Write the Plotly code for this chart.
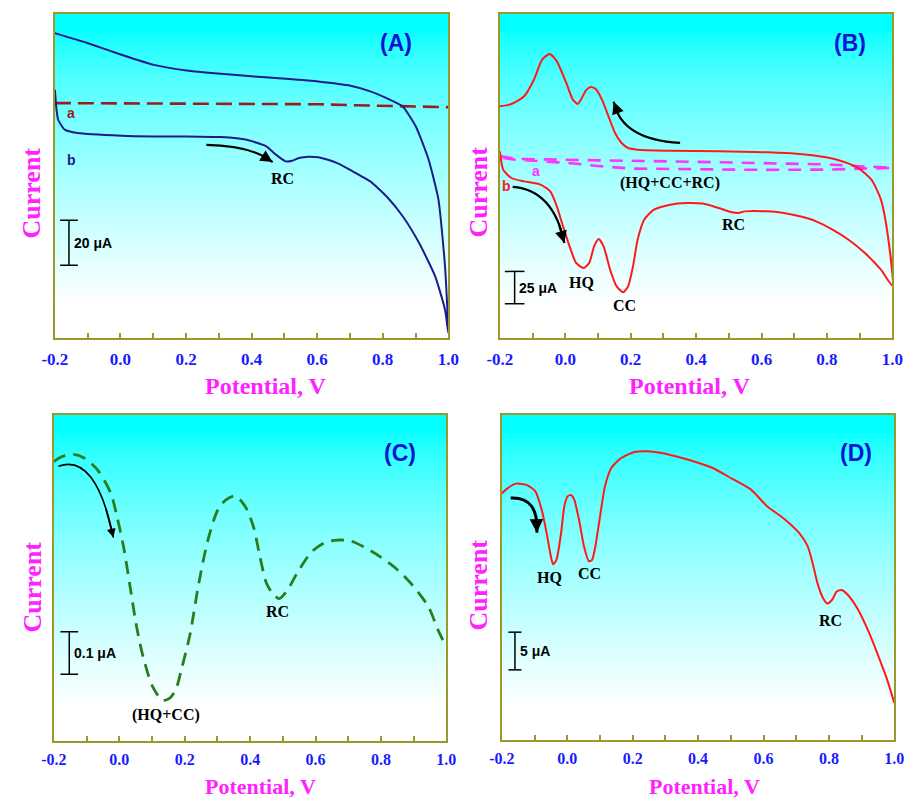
import plotly.graph_objects as go

# ---------------- DATA ----------------
# Panel A (CV, bare vs modified electrode)
A_a_V = [-0.2, 0.0, 0.2, 0.35, 0.5, 0.6, 0.7, 0.8, 0.9, 1.0]
A_a_I = [104.4, 104.3, 104.2, 104.0, 103.8, 103.9, 103.5, 103.2, 102.9, 102.6]

A_b_V = [-0.2, -0.195, -0.19, -0.17, -0.131, 0.003, 0.102, 0.202, 0.306, 0.385, 0.445, 0.474,
         0.504, 0.524, 0.544, 0.574, 0.603, 0.633, 0.663, 0.702, 0.762, 0.812, 0.861, 0.911, 0.96, 0.99, 1.0,
         0.99, 0.97, 0.94, 0.901, 0.861, 0.812, 0.762, 0.702, 0.603, 0.504, 0.4, 0.306, 0.202,
         0.102, 0.003, -0.101, -0.2]
A_b_I = [110.4, 101.5, 97.0, 92.6, 91.1, 89.9, 89.6, 89.6, 89.3, 88.1, 85.2, 81.5,
         78.5, 78.8, 80.0, 80.6, 80.3, 79.2, 77.6, 74.6, 69.6, 62.9, 54.1, 42.2, 27.4, 12.6, 2.2,
         31.8, 61.5, 79.2, 94.0, 102.9, 106.6, 109.6, 112.1, 114.0, 115.2, 116.3, 117.4, 118.9,
         121.4, 125.9, 131.1, 135.5]

# Panel B (CV of HQ+CC+RC mixture)
B_a_V = [-0.2, -0.15, 0.0, 0.2, 0.4, 0.6, 0.8, 1.0, 0.8, 0.6, 0.4, 0.2, 0.1, 0.0, -0.15, -0.2]
B_a_I = [140.5, 138.5, 137.8, 137.2, 136.2, 135.2, 134.2, 131.5, 130.2, 130.0, 130.4, 131.0, 133.0, 135.5, 137.8, 139.5]

B_b_V = [-0.2, -0.19, -0.165, -0.126, -0.076, -0.046, -0.026, -0.007, 0.013, 0.033, 0.056, 0.073,
         0.088, 0.102, 0.117, 0.137, 0.157, 0.177, 0.192, 0.207, 0.221, 0.241, 0.271, 0.321, 0.37,
         0.42, 0.469, 0.509, 0.529, 0.549, 0.618, 0.668, 0.717, 0.767, 0.817, 0.866, 0.916, 0.965, 1.0,
         0.985, 0.965, 0.936, 0.896, 0.846, 0.797, 0.717, 0.618, 0.469, 0.321, 0.221, 0.192, 0.172,
         0.152, 0.132, 0.112, 0.093, 0.078, 0.063, 0.048, 0.038, 0.023, 0.003, -0.026, -0.048,
         -0.071, -0.096, -0.126, -0.165, -0.2]
B_b_I = [144.3, 130.2, 123.7, 121.1, 118.6, 113.4, 101.8, 86.3, 70.9, 58.0, 54.1, 58.0,
         70.9, 76.5, 70.9, 52.8, 39.9, 35.3, 39.9, 55.4, 76.0, 91.5, 99.2, 103.1, 104.4,
         103.9, 100.5, 97.2, 96.6, 97.9, 97.9, 96.6, 94.1, 90.2, 83.8, 76.0, 65.7, 52.8, 40.5,
         81.2, 107.0, 122.4, 131.4, 136.6, 139.7, 142.3, 143.6, 144.3, 144.8, 145.6, 146.9, 150.8,
         158.5, 171.4, 184.3, 192.5, 194.1, 191.5, 184.3, 180.9, 184.3, 197.2, 213.9, 219.6,
         215.2, 199.7, 186.9, 180.9, 179.1]

# Panel C (DPV, dashed)
C_V = [-0.2, -0.175, -0.14, -0.106, -0.066, -0.026, -0.007, 0.013, 0.033, 0.053, 0.073, 0.102,
       0.132, 0.152, 0.172, 0.192, 0.217, 0.241, 0.271, 0.301, 0.326, 0.355, 0.385, 0.41, 0.43,
       0.45, 0.469, 0.489, 0.514, 0.549, 0.588, 0.628, 0.668, 0.707, 0.747, 0.797, 0.846, 0.896,
       0.945, 0.975, 1.0]
C_I = [0.659, 0.671, 0.676, 0.667, 0.639, 0.584, 0.529, 0.458, 0.364, 0.269, 0.198, 0.128,
       0.096, 0.100, 0.120, 0.175, 0.254, 0.364, 0.474, 0.545, 0.569, 0.578, 0.553, 0.506, 0.435,
       0.372, 0.348, 0.336, 0.356, 0.403, 0.446, 0.468, 0.474, 0.472, 0.458, 0.435, 0.407, 0.368,
       0.317, 0.261, 0.222]

# Panel D (DPV, solid)
D_V = [-0.2, -0.182, -0.157, -0.123, -0.098, -0.078, -0.063, -0.048, -0.043, -0.033, -0.019,
       -0.009, 0.001, 0.011, 0.021, 0.036, 0.051, 0.066, 0.076, 0.086, 0.1, 0.115, 0.135, 0.165,
       0.205, 0.244, 0.284, 0.334, 0.383, 0.443, 0.502, 0.562, 0.611, 0.661, 0.71, 0.735, 0.75,
       0.765, 0.78, 0.795, 0.81, 0.824, 0.839, 0.859, 0.889, 0.919, 0.948, 0.978, 1.0]
D_I = [32.7, 33.4, 34.0, 33.8, 33.0, 30.5, 27.4, 23.9, 23.3, 23.9, 27.4,
       31.0, 32.3, 32.5, 31.9, 29.2, 25.7, 23.7, 23.9, 25.7, 29.6, 33.6, 36.1, 37.4,
       38.2, 38.3, 38.1, 37.6, 37.0, 36.1, 34.7, 33.2, 31.0, 29.4, 27.4, 25.7, 23.5,
       20.8, 19.0, 18.1, 18.6, 19.7, 19.9, 19.2, 17.3, 14.6, 11.5, 8.0, 4.9]

X_TICKS = [-0.2, 0.0, 0.2, 0.4, 0.6, 0.8, 1.0]
X_TICKTEXT = ["-0.2", "0.0", "0.2", "0.4", "0.6", "0.8", "1.0"]
Y_RANGES = {"A": [0, 144], "B": [0, 250.5], "C": [0, 0.769], "D": [0, 43.1]}

# peak labels: (panel, V, I, text, color, font)
PEAK_LABELS = [
    ("A", 0.494, 71.1, "RC", "black", "serif"),
    ("A", -0.15, 99.8, "a", "#9b1c1c", "sans"),
    ("A", -0.148, 79.0, "b", "#1c1c8c", "sans"),
    ("B", -0.091, 128.9, "a", "#ff33ff", "sans"),
    ("B", -0.18, 117.3, "b", "#ff2020", "sans"),
    ("B", 0.321, 119.8, "(HQ+CC+RC)", "black", "serif"),
    ("B", 0.048, 43.0, "HQ", "black", "serif"),
    ("B", 0.182, 25.0, "CC", "black", "serif"),
    ("B", 0.514, 87.6, "RC", "black", "serif"),
    ("C", 0.142, 0.061, "(HQ+CC)", "black", "serif"),
    ("C", 0.484, 0.305, "RC", "black", "serif"),
    ("D", -0.055, 21.5, "HQ", "black", "serif"),
    ("D", 0.068, 22.1, "CC", "black", "serif"),
    ("D", 0.805, 15.8, "RC", "black", "serif"),
]

# curved arrows: (panel, start, control, end, width)
ARROWS = [
    ("A", (0.262, 85.8), (0.40, 85.5), (0.464, 78.2), 2.2),
    ("B", (-0.161, 116.9), (-0.036, 114.5), (-0.003, 73.5), 2.2),
    ("B", (0.351, 150.9), (0.172, 153.3), (0.148, 182.7), 2.2),
    ("C", (-0.186, 0.648), (-0.072, 0.680), (-0.018, 0.480), 1.6),
    ("D", (-0.173, 32.1), (-0.087, 32.3), (-0.093, 27.5), 3.0),
]

# scale bars: (panel, V, I_low, I_high, cap_half_width, label, label_V)
SCALE_BARS = [
    ("A", -0.157, 32.3, 52.3, 0.027, "20 μA", -0.147),
    ("B", -0.155, 26.5, 51.5, 0.03, "25 μA", -0.148),
    ("C", -0.153, 0.1575, 0.2575, 0.027, "0.1 μA", -0.146),
    ("D", -0.160, 9.3, 14.3, 0.02, "5 μA", -0.150),
]

# ---------------- LAYOUT GEOMETRY ----------------
W, H = 917, 798
PANELS = {  # pixel boxes: x0, x1, y0(top), y1(bottom)
    "A": (43, 447, 14, 338),
    "B": (500, 903, 14, 338),
    "C": (42, 445, 415, 741),
    "D": (502, 905, 415, 740),
}
AX = {"A": ("x", "y", ""), "B": ("x2", "y2", "2"), "C": ("x3", "y3", "3"), "D": ("x4", "y4", "4")}

SERIF = "Liberation Serif"
SANS = "Liberation Sans"
FRAME = "#9a9a2a"
TICKBLUE = "#1a1aff"
TITLEMAG = "#ff22ff"

fig = go.Figure()

# traces
fig.add_trace(go.Scatter(x=A_a_V, y=A_a_I, mode="lines", xaxis="x", yaxis="y",
                         line=dict(color="#9b1c1c", width=2.6, dash="16px,7px"), name="a"))
fig.add_trace(go.Scatter(x=A_b_V, y=A_b_I, mode="lines", xaxis="x", yaxis="y",
                         line=dict(color="#1c1c8c", width=2, shape="spline", smoothing=0.5), name="b"))
fig.add_trace(go.Scatter(x=B_a_V, y=B_a_I, mode="lines", xaxis="x2", yaxis="y2",
                         line=dict(color="#ff33ff", width=2.6, dash="13px,9px"), name="a"))
fig.add_trace(go.Scatter(x=B_b_V, y=B_b_I, mode="lines", xaxis="x2", yaxis="y2",
                         line=dict(color="#ff1a1a", width=2, shape="spline", smoothing=0.6), name="b"))
fig.add_trace(go.Scatter(x=C_V, y=C_I, mode="lines", xaxis="x3", yaxis="y3",
                         line=dict(color="#2a7d1e", width=2.8, dash="13px,8px", shape="spline", smoothing=0.8),
                         name="DPV"))
fig.add_trace(go.Scatter(x=D_V, y=D_I, mode="lines", xaxis="x4", yaxis="y4",
                         line=dict(color="#ff1a1a", width=2, shape="spline", smoothing=0.6), name="DPV"))

shapes = []
annotations = []

layout_axes = {}
for key, (x0, x1, y0, y1) in PANELS.items():
    xa, ya, suf = AX[key]
    bottom_row = key in ("C", "D")
    layout_axes["xaxis" + suf] = dict(
        domain=[x0 / W, x1 / W], anchor=ya, range=[-0.2, 1.0],
        showline=True, linecolor=FRAME, linewidth=2, mirror=True,
        showgrid=False, zeroline=False,
        tickmode="array", tickvals=X_TICKS, ticktext=X_TICKTEXT,
        ticks="inside", ticklen=5, tickwidth=1.5, tickcolor=FRAME,
        minor=dict(dtick=0.1, tick0=-0.2, ticks="inside", ticklen=5, tickwidth=1.5, tickcolor=FRAME),
        tickfont=dict(family=SERIF, size=16 if bottom_row else 17, color=TICKBLUE, weight="bold"),
        ticklabelstandoff=3 if bottom_row else 5,
    )
    layout_axes["yaxis" + suf] = dict(
        domain=[1 - y1 / H, 1 - y0 / H], anchor=xa, range=Y_RANGES[key],
        showline=True, linecolor=FRAME, linewidth=2, mirror=True,
        showgrid=False, zeroline=False, showticklabels=False, ticks="",
    )
    # gradient background: cyan at top fading to white at bottom
    n = 70
    for i in range(n):
        d = 1 - (i + 0.5) / n  # distance from top (0 top .. 1 bottom)
        wfrac = min(max((d - 0.05) / 0.85, 0.0), 1.0) ** 0.68
        r = int(round(255 * wfrac))
        shapes.append(dict(type="rect", xref=xa + " domain", yref=ya + " domain",
                           x0=0, x1=1, y0=i / n, y1=(i + 1) / n + 0.002,
                           fillcolor=f"rgb({r},255,255)", line=dict(width=0), layer="below"))
    # panel letter
    letter_pos = {"A": (393, 43), "B": (860, 43), "C": (397, 453), "D": (866, 453)}[key]
    annotations.append(dict(text=f"({key})", xref="paper", yref="paper",
                            x=letter_pos[0] / W, y=1 - letter_pos[1] / H, showarrow=False,
                            font=dict(family=SANS, size=23, color="#0a14d2", weight="bold"),
                            xanchor="center", yanchor="middle"))
    # axis titles
    yt = {"A": (20, 193), "B": (477, 192), "C": (20, 587), "D": (478, 585)}[key]
    annotations.append(dict(text="Current", xref="paper", yref="paper", x=yt[0] / W, y=1 - yt[1] / H,
                            textangle=-90, showarrow=False, xanchor="center", yanchor="middle",
                            font=dict(family=SERIF, size=26, color=TITLEMAG, weight="bold")))
    xt = {"A": (260, 386), "B": (695, 386), "C": (254, 786), "D": (710, 786)}[key]
    annotations.append(dict(text="Potential, V", xref="paper", yref="paper", x=xt[0] / W, y=1 - xt[1] / H,
                            showarrow=False, xanchor="center", yanchor="middle",
                            font=dict(family=SERIF, size=22 if bottom_row else 24, color=TITLEMAG,
                                      weight="bold")))

# peak labels
for key, v, i, txt, col, fam in PEAK_LABELS:
    xa, ya, _ = AX[key]
    if fam == "serif":
        f = dict(family=SERIF, size=16, color=col, weight="bold")
    else:
        f = dict(family=SANS, size=14, color=col, weight="bold")
    annotations.append(dict(text=txt, x=v, y=i, xref=xa, yref=ya, showarrow=False,
                            xanchor="center", yanchor="middle", font=f))

# curved arrows
for key, s, c, e, w in ARROWS:
    xa, ya, _ = AX[key]
    shapes.append(dict(type="path", xref=xa, yref=ya,
                       path=f"M {s[0]},{s[1]} Q {c[0]},{c[1]} {e[0]},{e[1]}",
                       line=dict(color="black", width=w)))
    t = 0.8
    bx = (1 - t) ** 2 * s[0] + 2 * (1 - t) * t * c[0] + t ** 2 * e[0]
    by = (1 - t) ** 2 * s[1] + 2 * (1 - t) * t * c[1] + t ** 2 * e[1]
    annotations.append(dict(x=e[0], y=e[1], ax=bx, ay=by, xref=xa, yref=ya, axref=xa, ayref=ya,
                            text="", showarrow=True, arrowhead=2, arrowsize=1.1 if w < 2.5 else 0.9,
                            arrowwidth=w, arrowcolor="black"))

# scale bars
for key, v, lo, hi, hw, txt, lv in SCALE_BARS:
    xa, ya, _ = AX[key]
    shapes.append(dict(type="line", xref=xa, yref=ya, x0=v, x1=v, y0=lo, y1=hi,
                       line=dict(color="black", width=1.5)))
    for yy in (lo, hi):
        shapes.append(dict(type="line", xref=xa, yref=ya, x0=v - hw, x1=v + hw, y0=yy, y1=yy,
                           line=dict(color="black", width=1.5)))
    annotations.append(dict(text=txt, x=lv, y=(lo + hi) / 2, xref=xa, yref=ya, showarrow=False,
                            xanchor="left", yanchor="middle",
                            font=dict(family=SANS, size=14, color="black", weight="bold")))

fig.update_layout(
    width=W, height=H, margin=dict(l=0, r=0, t=0, b=0),
    paper_bgcolor="white", plot_bgcolor="white", showlegend=False,
    shapes=shapes, annotations=annotations, **layout_axes,
)

fig.write_html("out.html")
